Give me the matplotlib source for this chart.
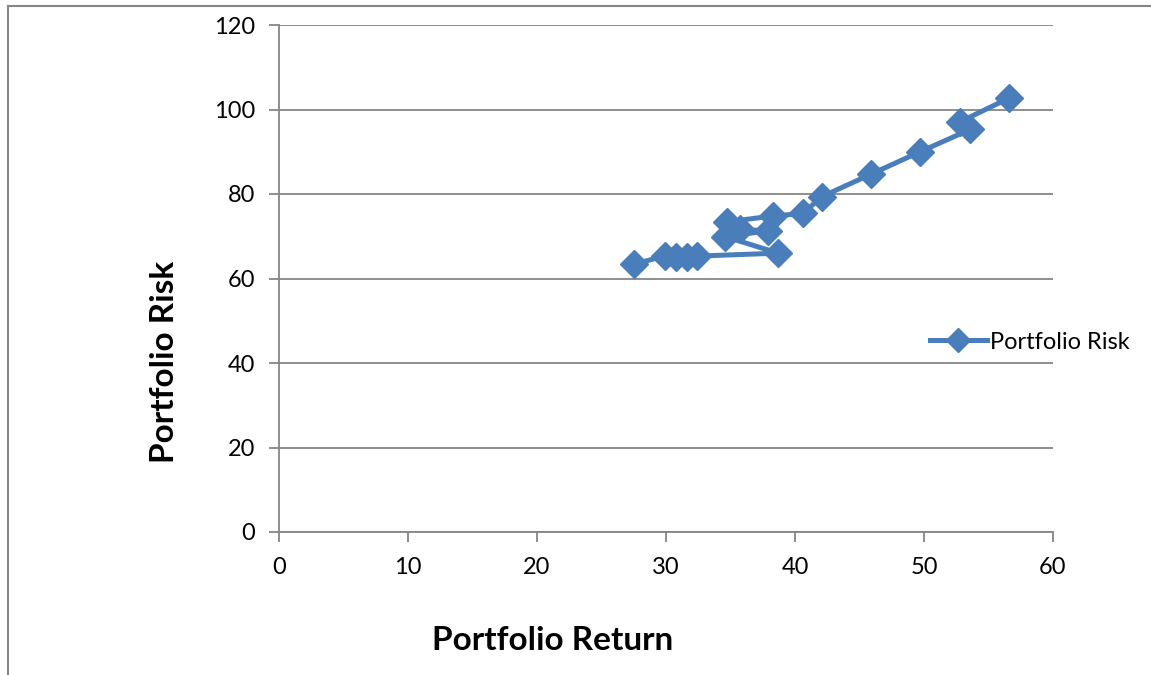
import matplotlib
matplotlib.use("Agg")
import matplotlib.pyplot as plt
from matplotlib.lines import Line2D

plt.rcParams['font.family'] = ['Lato', 'DejaVu Sans']

# portfolio points, in the order the line joins them
port_return = [27.5, 29.9, 30.8, 31.6, 32.4, 38.7, 34.6, 37.9, 35.7, 34.7,
               38.3, 40.6, 42.1, 45.9, 49.7, 53.6, 52.8, 56.6]
port_risk = [63.4, 65.3, 65.2, 65.2, 65.3, 66.0, 69.9, 71.3, 71.6, 73.4,
             74.8, 75.4, 79.4, 84.7, 90.0, 95.3, 97.1, 102.7]

blue = '#4a7ebb'
grey = '#868686'
W, H = 1151, 675

fig = plt.figure(figsize=(11.51, 6.75), dpi=100)
ax = fig.add_axes([279 / W, 1 - 532 / H, (1053 - 279) / W, (532 - 25) / H])

ax.plot(port_return, port_risk, color=blue, lw=3.6, marker='D', ms=14,
        label='Portfolio Risk', solid_joinstyle='round', zorder=3)

ax.set_xlim(0, 60)
ax.set_ylim(0, 120)
ax.set_xticks(range(0, 61, 10))
ax.set_yticks(range(0, 121, 20))
ax.yaxis.grid(True, color=grey, lw=1.3)
ax.set_axisbelow(True)
for s in ['top', 'right']:
    ax.spines[s].set_visible(False)
for s in ['left', 'bottom']:
    ax.spines[s].set_color(grey)
    ax.spines[s].set_linewidth(1.3)
ax.tick_params(axis='both', colors=grey, width=1.3, length=7, labelsize=17,
               labelcolor='black')
ax.tick_params(axis='y', pad=10)
ax.tick_params(axis='x', pad=11)

# axis titles sit off-centre in the original, so place them by hand
fig.text(553 / W, 1 - 641 / H, 'Portfolio Return', fontsize=24,
         fontweight='bold', ha='center', va='center')
fig.text(165 / W, 1 - 362 / H, 'Portfolio Risk', fontsize=24,
         fontweight='bold', ha='center', va='center', rotation=90)

ax.legend(loc='center left', bbox_to_anchor=(930 / W, 1 - 342 / H),
          bbox_transform=fig.transFigure, frameon=False, fontsize=17,
          handlelength=2.4, handletextpad=0.15, borderpad=0, borderaxespad=0,
          markerscale=0.85)

# outer chart frame, cut by the image edge
fig.add_artist(Line2D([0.007, 0.007], [0.0, 0.991], transform=fig.transFigure,
                      color=grey, lw=1.5))
fig.add_artist(Line2D([0.007, 1.0], [0.991, 0.991], transform=fig.transFigure,
                      color=grey, lw=1.5))

fig.savefig('out.png', dpi=100)
